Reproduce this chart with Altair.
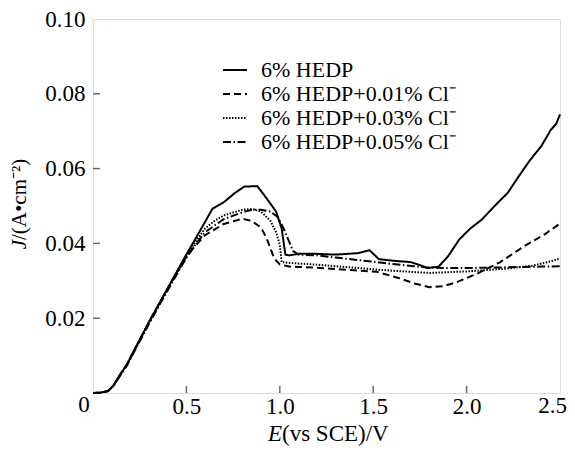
import altair as alt
import pandas as pd

# ---- data ----
SERIES = ["6% HEDP", "6% HEDP+0.01% Cl\u207b", "6% HEDP+0.03% Cl\u207b", "6% HEDP+0.05% Cl\u207b"]

E_0 = [0, 0.04, 0.08, 0.11, 0.14, 0.18, 0.3, 0.4, 0.5, 0.58, 0.64, 0.7, 0.76, 0.81, 0.88, 0.93, 0.98,
       1.01, 1.03, 1.05, 1.1, 1.2, 1.3, 1.42, 1.48, 1.53, 1.6, 1.7, 1.75, 1.79, 1.85, 1.9, 1.96, 2.02,
       2.08, 2.15, 2.22, 2.28, 2.34, 2.4, 2.45, 2.48, 2.5]
J_0 = [0, 0.0001, 0.0005, 0.002, 0.0045, 0.0075, 0.019, 0.028, 0.037, 0.044, 0.0493, 0.051, 0.0535,
       0.0552, 0.0553, 0.052, 0.0485, 0.044, 0.037, 0.0368, 0.0372, 0.0372, 0.037, 0.0374, 0.0382,
       0.0358, 0.0354, 0.035, 0.0342, 0.0334, 0.0338, 0.0365, 0.041, 0.044, 0.0463, 0.050, 0.0535,
       0.058, 0.0623, 0.066, 0.0703, 0.072, 0.0745]

E_1 = [0, 0.04, 0.08, 0.11, 0.14, 0.18, 0.3, 0.4, 0.5, 0.55, 0.6, 0.7, 0.8, 0.85, 0.9, 0.93, 0.97,
       1.0, 1.05, 1.1, 1.2, 1.4, 1.52, 1.64, 1.72, 1.8, 1.88, 1.95, 2.06, 2.18, 2.32, 2.42, 2.5]
J_1 = [0, 0.0001, 0.0005, 0.002, 0.0045, 0.0075, 0.019, 0.028, 0.0365, 0.0395, 0.0422, 0.0452,
       0.0466, 0.046, 0.0442, 0.0413, 0.036, 0.0344, 0.0338, 0.0337, 0.0335, 0.0328, 0.0324, 0.0307,
       0.0293, 0.0283, 0.0286, 0.0297, 0.032, 0.035, 0.0396, 0.0425, 0.0453]

E_3 = [0, 0.04, 0.08, 0.11, 0.14, 0.18, 0.3, 0.4, 0.5, 0.55, 0.6, 0.65, 0.7, 0.8, 0.85, 0.9, 0.95,
       0.98, 1.0, 1.01, 1.05, 1.2, 1.4, 1.6, 1.8, 2.0, 2.2, 2.35, 2.45, 2.5]
J_3 = [0, 0.0001, 0.0005, 0.002, 0.0045, 0.0075, 0.019, 0.028, 0.037, 0.0405, 0.044, 0.046, 0.0475,
       0.049, 0.0492, 0.0485, 0.046, 0.043, 0.0397, 0.035, 0.0348, 0.0343, 0.0335, 0.0327, 0.0321,
       0.0325, 0.0332, 0.034, 0.0352, 0.036]

E_5 = [0, 0.04, 0.08, 0.11, 0.14, 0.18, 0.3, 0.4, 0.5, 0.55, 0.6, 0.7, 0.8, 0.85, 0.9, 0.95, 0.99,
       1.02, 1.05, 1.07, 1.1, 1.2, 1.3, 1.43, 1.6, 1.78, 1.9, 2.0, 2.2, 2.4, 2.5]
J_5 = [0, 0.0001, 0.0005, 0.002, 0.0042, 0.0072, 0.0185, 0.0275, 0.0362, 0.0398, 0.043, 0.0465,
       0.0483, 0.049, 0.049, 0.0485, 0.047, 0.044, 0.0405, 0.038, 0.037, 0.0368, 0.0362, 0.0355,
       0.0345, 0.0336, 0.0334, 0.0334, 0.0336, 0.0338, 0.0339]

X_TICKS = [0.5, 1.0, 1.5, 2.0]
Y_TICKS = [0.02, 0.04, 0.06, 0.08]
X_LABELS = [0.5, 1.0, 1.5, 2.0]
X_LAST_LABEL = "2.5"
Y_LABELS = [0.02, 0.04, 0.06, 0.08, 0.10]

rows = []
for name, es, js in zip(SERIES, [E_0, E_1, E_3, E_5], [J_0, J_1, J_3, J_5]):
    for e, j in zip(es, js):
        rows.append({"E": e, "J": j, "series": name})
df = pd.DataFrame(rows)

FONT = "Liberation Serif"
FS = 23
LFS = 22
GRAY = "#6a6a6a"
W, H = 467, 374

xscale = alt.Scale(domain=[0, 2.5], nice=False, zero=False)
yscale = alt.Scale(domain=[0, 0.10], nice=False, zero=False)

xaxis = alt.Axis(values=X_LABELS, format=".1f", title=None, ticks=False, domain=False, grid=False,
                 labelFont=FONT, labelFontSize=FS, labelColor="black", labelPadding=2)
yaxis = alt.Axis(values=Y_LABELS, format=".2f", title=None, ticks=False, domain=False, grid=False,
                 labelFont=FONT, labelFontSize=FS, labelColor="black", labelPadding=8)

lines = alt.Chart(df).mark_line(color="black", strokeWidth=2).encode(
    x=alt.X("E:Q", scale=xscale, axis=xaxis),
    y=alt.Y("J:Q", scale=yscale, axis=yaxis),
    strokeDash=alt.StrokeDash("series:N",
        scale=alt.Scale(domain=SERIES, range=[[1, 0], [7, 4], [1.5, 1.5], [8, 2.5, 1.5, 2.5]]),
        legend=alt.Legend(title=None, orient="none", legendX=129, legendY=38,
                          symbolType="stroke", symbolSize=576, symbolStrokeWidth=2,
                          symbolStrokeColor="black", labelFont=FONT, labelFontSize=LFS,
                          labelColor="black", labelOffset=13, rowPadding=-1, padding=0,
                          labelLimit=400)),
)

ytk = alt.Chart(pd.DataFrame({"J": Y_TICKS})).mark_rule(color=GRAY, strokeWidth=1.5).encode(
    y=alt.Y("J:Q", scale=yscale, axis=yaxis), x=alt.value(0), x2=alt.value(7))
xtk = alt.Chart(pd.DataFrame({"E": X_TICKS})).mark_rule(color=GRAY, strokeWidth=1.5).encode(
    x=alt.X("E:Q", scale=xscale, axis=xaxis), y=alt.value(H), y2=alt.value(H - 7))

zero = alt.Chart(pd.DataFrame({"t": ["0"]})).mark_text(
    font=FONT, fontSize=FS, align="center", baseline="middle", color="black").encode(
    text="t:N", x=alt.value(-9), y=alt.value(H + 12))

last = alt.Chart(pd.DataFrame({"t": [X_LAST_LABEL]})).mark_text(
    font=FONT, fontSize=FS, align="right", baseline="top", color="black").encode(
    text="t:N", x=alt.value(W + 7), y=alt.value(H + 2))

xt1 = alt.Chart(pd.DataFrame({"t": ["E"]})).mark_text(
    font=FONT, fontSize=FS, fontStyle="italic", align="right", baseline="alphabetic", color="black").encode(
    text="t:N", x=alt.value(189), y=alt.value(H + 48))
xt2 = alt.Chart(pd.DataFrame({"t": ["(vs SCE)/V"]})).mark_text(
    font=FONT, fontSize=FS, align="left", baseline="alphabetic", color="black").encode(
    text="t:N", x=alt.value(189), y=alt.value(H + 48))

yt1 = alt.Chart(pd.DataFrame({"t": ["J"]})).mark_text(
    font=FONT, fontSize=21, fontStyle="italic", align="right", baseline="middle", angle=270, color="black").encode(
    text="t:N", x=alt.value(-73), y=alt.value(221))
yt2 = alt.Chart(pd.DataFrame({"t": ["/(A\u2022cm\u207b\u00b2)"]})).mark_text(
    font=FONT, fontSize=21, align="left", baseline="middle", angle=270, color="black").encode(
    text="t:N", x=alt.value(-73), y=alt.value(221))

chart = alt.layer(lines, ytk, xtk, zero, last, xt1, xt2, yt1, yt2).properties(
    width=W, height=H,
    autosize=alt.AutoSizeParams(type="none"),
    padding={"left": 85, "top": 11, "right": 7, "bottom": 55},
).configure_view(stroke=GRAY, strokeWidth=1.5).configure(background="white")

chart.save("out.html", embed_options={"renderer": "svg", "actions": False})
